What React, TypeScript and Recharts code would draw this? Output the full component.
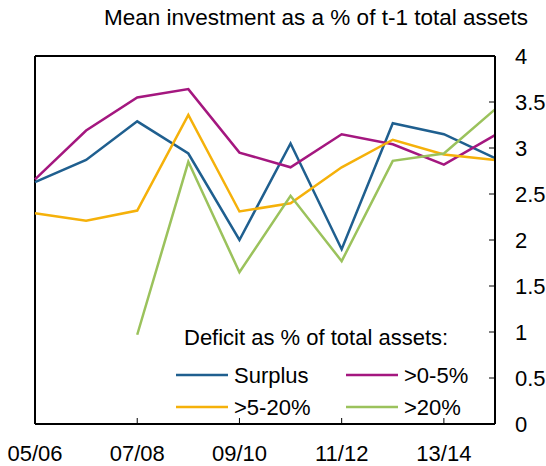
import * as React from 'react';
import { Line, LineChart, ReferenceLine, XAxis, YAxis } from 'recharts';

const years = ['05/06', '06/07', '07/08', '08/09', '09/10', '10/11', '11/12', '12/13', '13/14', '14/15'];
const surplus = [2.63, 2.87, 3.29, 2.94, 2.0, 3.05, 1.9, 3.27, 3.15, 2.89];
const deficit0to5 = [2.66, 3.19, 3.55, 3.64, 2.95, 2.79, 3.15, 3.04, 2.82, 3.14];
const deficit5to20 = [2.29, 2.21, 2.32, 3.36, 2.31, 2.4, 2.79, 3.09, 2.93, 2.87];
const deficitOver20 = [null, null, 0.97, 2.85, 1.65, 2.48, 1.77, 2.86, 2.94, 3.42];
const yTicks = [0, 0.5, 1, 1.5, 2, 2.5, 3, 3.5, 4];

const series = [
  { key: 'surplus', name: 'Surplus', color: '#1f5f8f', values: surplus },
  { key: 'd0to5', name: '>0-5%', color: '#a4177f', values: deficit0to5 },
  { key: 'd5to20', name: '>5-20%', color: '#f5b10a', values: deficit5to20 },
  { key: 'd20', name: '>20%', color: '#9bc25c', values: deficitOver20 }
];

const data = years.map((year, i) => {
  const row: Record<string, string | number | null> = { year };
  series.forEach((s) => {
    row[s.key] = s.values[i];
  });
  return row;
});

const FONT = '"Liberation Sans", Arial, sans-serif';

function XTick({ x, y, payload, index }: any) {
  return (
    <g>
      {index > 0 && <line x1={x} x2={x} y1={y} y2={y - 6} stroke="#000" strokeWidth={1} />}
      <text x={x} y={y + 29} textAnchor="middle" dominantBaseline="central" fontSize={22} fill="#000" fontFamily={FONT}>
        {payload.value}
      </text>
    </g>
  );
}

function YTick({ x, y, payload }: any) {
  return (
    <g>
      <line x1={x - 6} x2={x} y1={y} y2={y} stroke="#000" strokeWidth={1} />
      <text x={x + 20} y={y} textAnchor="start" dominantBaseline="central" fontSize={22} fill="#000" fontFamily={FONT}>
        {payload.value}
      </text>
    </g>
  );
}

function ChartLegend() {
  const cols = [176, 346];
  const rows = [375, 407];
  return (
    <svg width={546} height={466} style={{ position: 'absolute', left: 0, top: 0, pointerEvents: 'none' }}>
      <text x={184} y={337} dominantBaseline="central" fontSize={22} fontFamily={FONT} fill="#000">
        Deficit as % of total assets:
      </text>
      {series.map((s, i) => {
        const cx = cols[i % 2];
        const cy = rows[Math.floor(i / 2)];
        return (
          <g key={s.key}>
            <line x1={cx} x2={cx + 52} y1={cy} y2={cy} stroke={s.color} strokeWidth={2.5} />
            <text x={cx + 58} y={cy} dominantBaseline="central" fontSize={22} fontFamily={FONT} fill="#000">
              {s.name}
            </text>
          </g>
        );
      })}
    </svg>
  );
}

export default function App() {
  return (
    <div style={{ position: 'absolute', left: 0, top: 0, width: 546, height: 466, background: '#fff', fontFamily: FONT }}>
      <div style={{ position: 'absolute', left: 104, top: 5, fontSize: 22.5, color: '#000', whiteSpace: 'nowrap' }}>
        Mean investment as a % of t-1 total assets
      </div>
      <LineChart width={546} height={466} data={data} margin={{ top: 56, right: 0, bottom: 0, left: 35 }}>
        <XAxis
          xAxisId="x"
          dataKey="year"
          height={42}
          interval={1}
          tickSize={0}
          tickMargin={0}
          tickLine={false}
          axisLine={{ stroke: '#000', strokeWidth: 2 }}
          tick={<XTick />}
        />
        <YAxis
          yAxisId="right"
          orientation="right"
          width={51}
          domain={[0, 4]}
          ticks={yTicks}
          tickSize={0}
          tickMargin={0}
          tickLine={false}
          axisLine={{ stroke: '#000', strokeWidth: 2 }}
          tick={<YTick />}
        />
        <ReferenceLine xAxisId="x" yAxisId="right" y={4} stroke="#000" strokeWidth={2} />
        <ReferenceLine xAxisId="x" yAxisId="right" x={years[0]} stroke="#000" strokeWidth={2} />
        {series.map((s) => (
          <Line
            key={s.key}
            xAxisId="x"
            yAxisId="right"
            type="linear"
            dataKey={s.key}
            name={s.name}
            stroke={s.color}
            strokeWidth={2.5}
            dot={false}
            activeDot={false}
            isAnimationActive={false}
          />
        ))}
      </LineChart>
      <ChartLegend />
    </div>
  );
}
